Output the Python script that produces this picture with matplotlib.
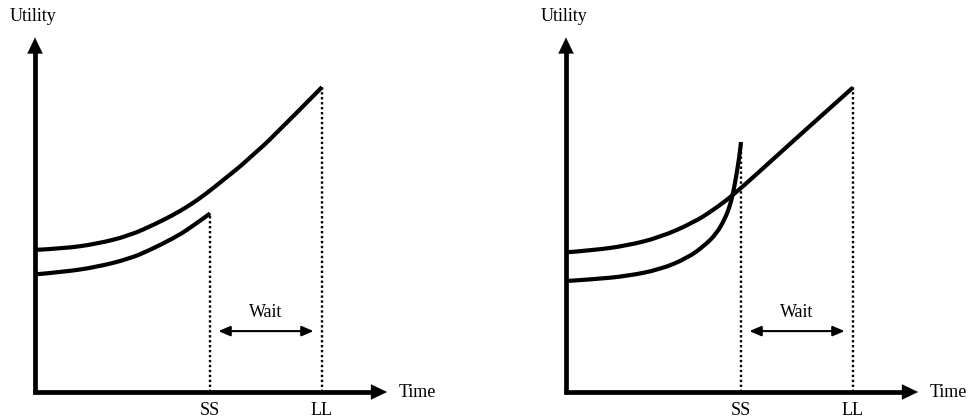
import numpy as np
import matplotlib
matplotlib.use("Agg")
import matplotlib.pyplot as plt
from matplotlib.path import Path
from matplotlib.patches import PathPatch

# ---- data (arbitrary units) ----
ss_time = 5.0
ll_time = 8.2

# left panel: exponential discounting
left_ll_t = [0.0, 0.81, 1.76, 2.71, 3.48, 3.95, 4.43, 4.91, 5.38, 5.86, 6.33, 6.71, 8.20]
left_ll_u = [4.06, 4.10, 4.23, 4.47, 4.82, 5.06, 5.34, 5.68, 6.06, 6.44, 6.87, 7.20, 8.71]
left_ss_t = [0.0, 0.81, 1.76, 2.71, 3.29, 3.95, 4.43, 5.00]
left_ss_u = [3.36, 3.43, 3.57, 3.81, 4.06, 4.39, 4.68, 5.10]

# right panel: hyperbolic discounting
right_ll_t = [0.0, 0.78, 1.73, 2.69, 3.64, 4.21, 4.78, 5.54, 6.49, 7.45, 8.20]
right_ll_u = [3.99, 4.05, 4.18, 4.42, 4.84, 5.20, 5.63, 6.31, 7.17, 8.03, 8.70]
right_ss_t = [0.0, 0.78, 1.73, 2.69, 3.45, 3.92, 4.30, 4.54, 4.69, 4.80, 4.90, 4.97, 5.00]
right_ss_u = [3.17, 3.22, 3.31, 3.50, 3.82, 4.15, 4.52, 4.95, 5.33, 5.81, 6.38, 6.86, 7.14]

x_label = "Time"
y_label = "Utility"
tick_labels = ["SS", "LL"]
wait_label = "Wait"

FONT = ["Liberation Serif", "DejaVu Serif"]
plt.rcParams["font.family"] = FONT

W, H = 972, 419
fig = plt.figure(figsize=(W / 100, H / 100), dpi=100)

UNIT = 35.0  # pixels per unit


def smooth_path(xs, ys):
    """Quadratic B-spline path with the read points as its control polygon."""
    pts = np.column_stack([xs, ys]).astype(float)
    n = len(pts)
    verts = [pts[0]]
    codes = [Path.MOVETO]
    for i in range(1, n - 1):
        end = pts[n - 1] if i == n - 2 else (pts[i] + pts[i + 1]) / 2.0
        verts += [pts[i], end]
        codes += [Path.CURVE3, Path.CURVE3]
    return Path(verts, codes)


def panel(left_px, width_px, origin_px, curves):
    ax = fig.add_axes([left_px / W, 0, width_px / W, 1])
    ox = (origin_px - left_px) / UNIT
    ax.set_xlim(-ox, width_px / UNIT - ox)
    oy = (H - 392) / UNIT
    ax.set_ylim(-oy, H / UNIT - oy)
    ax.axis("off")

    # axes with arrow heads
    ax.plot([0, 0], [-0.06, 9.8], color="black", lw=3.4, solid_capstyle="butt", zorder=3)
    ax.plot([-0.06, 9.7], [0, 0], color="black", lw=3.4, solid_capstyle="butt", zorder=3)
    head = dict(arrowstyle="-|>,head_length=1.15,head_width=0.55",
                color="black", lw=0.1, shrinkA=0, shrinkB=0, mutation_scale=10)
    ax.annotate("", xy=(0, 10.13), xytext=(0, 9.3), arrowprops=head)
    ax.annotate("", xy=(10.06, 0), xytext=(9.3, 0), arrowprops=head)

    ax.text(-0.72, 10.72, y_label, fontsize=13, ha="left", va="center")
    ax.text(10.4, 0.0, x_label, fontsize=13, ha="left", va="center")
    for t, lab in zip([ss_time, ll_time], tick_labels):
        ax.text(t, -0.53, lab, fontsize=13, ha="center", va="center")

    ends = []
    for xs, ys in curves:
        ax.add_patch(PathPatch(smooth_path(xs, ys), facecolor="none",
                               edgecolor="black", lw=3.0, capstyle="butt", zorder=4))
        ends.append((xs[-1], ys[-1]))

    for t, u in ends:
        ax.plot([t, t], [0, u], color="black", lw=1.7, linestyle=(0, (1, 1.1)), zorder=2)

    ax.annotate("", xy=(ll_time - 0.24, 1.74), xytext=(ss_time + 0.24, 1.74),
                arrowprops=dict(arrowstyle="<|-|>,head_length=0.7,head_width=0.3",
                                color="black", lw=1.5, shrinkA=0, shrinkB=0,
                                mutation_scale=10))
    ax.text((ss_time + ll_time) / 2, 2.27, wait_label, fontsize=13, ha="center", va="center")
    return ax


panel(0, 486, 35, [(left_ll_t, left_ll_u), (left_ss_t, left_ss_u)])
panel(486, 486, 566, [(right_ll_t, right_ll_u), (right_ss_t, right_ss_u)])

fig.savefig("out.png", dpi=100, facecolor="white")
